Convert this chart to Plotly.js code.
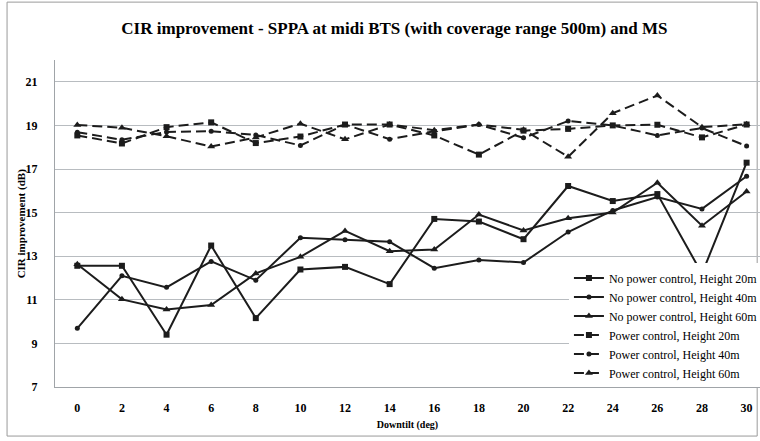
<!DOCTYPE html>
<html>
<head>
<meta charset="utf-8">
<script src="https://cdn.plot.ly/plotly-3.0.1.min.js"></script>
<style>
  html, body { margin: 0; padding: 0; background: #ffffff; }
  #chart { width: 760px; height: 441px; }
</style>
</head>
<body>
<div id="chart"></div>
<script>
// Downtilt angles (deg)
const downtilt = [0, 2, 4, 6, 8, 10, 12, 14, 16, 18, 20, 22, 24, 26, 28, 30];

// CIR improvement (dB), without power control
const noPc20 = [12.56, 12.56, 9.40, 13.49, 10.16, 12.39, 12.51, 11.72, 14.71, 14.59, 13.78, 16.22, 15.53, 15.85, 12.20, 17.29];
const noPc40 = [9.69, 12.10, 11.57, 12.76, 11.90, 13.85, 13.76, 13.66, 12.45, 12.83, 12.71, 14.11, 15.10, 15.71, 15.17, 16.67];
const noPc60 = [12.63, 11.02, 10.56, 10.76, 12.21, 12.97, 14.16, 13.23, 13.31, 14.91, 14.18, 14.74, 15.00, 16.37, 14.40, 15.97];

// CIR improvement (dB), with power control
const pc20 = [18.54, 18.17, 18.92, 19.14, 18.19, 18.49, 19.04, 19.04, 18.54, 17.66, 18.76, 18.84, 19.00, 19.03, 18.45, 19.04];
const pc40 = [18.69, 18.34, 18.70, 18.73, 18.56, 18.08, 19.04, 18.37, 18.73, 19.04, 18.43, 19.20, 19.00, 18.54, 18.88, 18.05];
const pc60 = [19.02, 18.89, 18.50, 18.03, 18.45, 19.08, 18.36, 19.04, 18.78, 19.04, 18.80, 17.56, 19.56, 20.37, 18.92, 19.05];

const seriesNames = [
  'No power control, Height 20m',
  'No power control, Height 40m',
  'No power control, Height 60m',
  'Power control, Height 20m',
  'Power control, Height 40m',
  'Power control, Height 60m'
];

const yTicks = [7, 9, 11, 13, 15, 17, 19, 21];

const ink = '#1c1c1c';
const serif = 'Liberation Serif, DejaVu Serif, serif';

function series(name, y, symbol, size, dashed) {
  return {
    type: 'scatter',
    mode: 'lines+markers',
    name: name,
    x: downtilt,
    y: y,
    line: { color: ink, width: 2, dash: dashed ? '10px,5px' : 'solid' },
    marker: { symbol: symbol, size: size, color: ink }
  };
}

const data = [
  series(seriesNames[0], noPc20, 'square', 6, false),
  series(seriesNames[1], noPc40, 'circle', 5, false),
  series(seriesNames[2], noPc60, 'triangle-up', 7, false),
  series(seriesNames[3], pc20, 'square', 6, true),
  series(seriesNames[4], pc40, 'circle', 5, true),
  series(seriesNames[5], pc60, 'triangle-up', 7, true)
];

const layout = {
  width: 760,
  height: 441,
  margin: { l: 55, r: 0, t: 60, b: 54, autoexpand: false },
  paper_bgcolor: '#ffffff',
  plot_bgcolor: '#ffffff',
  font: { family: serif, color: '#000000' },
  title: {
    text: '<b>CIR improvement - SPPA at midi BTS (with coverage range 500m) and MS</b>',
    font: { family: serif, size: 17, color: '#000000' },
    x: 0.519, xref: 'container', xanchor: 'center',
    y: 0.936, yref: 'container', yanchor: 'middle'
  },
  xaxis: {
    range: [-1, 30.6],
    tickmode: 'array',
    tickvals: downtilt,
    ticktext: downtilt.map(v => '<b>' + v + '</b>'),
    tickfont: { family: serif, size: 12, color: '#000000' },
    ticks: '',
    ticklabelstandoff: 10,
    showgrid: false,
    zeroline: false,
    showline: true,
    linecolor: '#a0a4a8',
    linewidth: 1,
    title: {
      text: '<b>Downtilt (deg)</b>',
      font: { family: serif, size: 10, color: '#000000' },
      standoff: 6
    }
  },
  yaxis: {
    range: [7, 22],
    tickmode: 'array',
    tickvals: yTicks,
    ticktext: yTicks.map(t => '<b>' + t + '</b>'),
    tickfont: { family: serif, size: 12, color: '#000000' },
    ticks: '',
    ticklabelstandoff: 14,
    showgrid: true,
    gridcolor: '#b8bcc0',
    gridwidth: 1,
    zeroline: false,
    showline: true,
    linecolor: '#a0a4a8',
    linewidth: 1
  },
  annotations: [{
    text: '<b>CIR improvement (dB)</b>',
    xref: 'paper', yref: 'paper',
    x: -0.047, y: 0.5,
    xanchor: 'center', yanchor: 'middle',
    textangle: -90,
    showarrow: false,
    font: { family: serif, size: 11, color: '#000000' }
  }],
  legend: {
    x: 0.729, xanchor: 'left',
    y: 0.378, yanchor: 'top',
    bgcolor: '#ffffff',
    borderwidth: 0,
    font: { family: serif, size: 12, color: '#000000' },
    tracegroupgap: 0,
    itemwidth: 30
  },
  shapes: [{
    type: 'rect', xref: 'paper', yref: 'paper',
    x0: -0.068, x1: 0.996, y0: -0.150, y1: 1.177,
    line: { color: '#9a9a9a', width: 1 },
    fillcolor: 'rgba(0,0,0,0)',
    layer: 'below'
  }],
  showlegend: true
};

Plotly.newPlot('chart', data, layout, { displayModeBar: false, staticPlot: true });
</script>
</body>
</html>
